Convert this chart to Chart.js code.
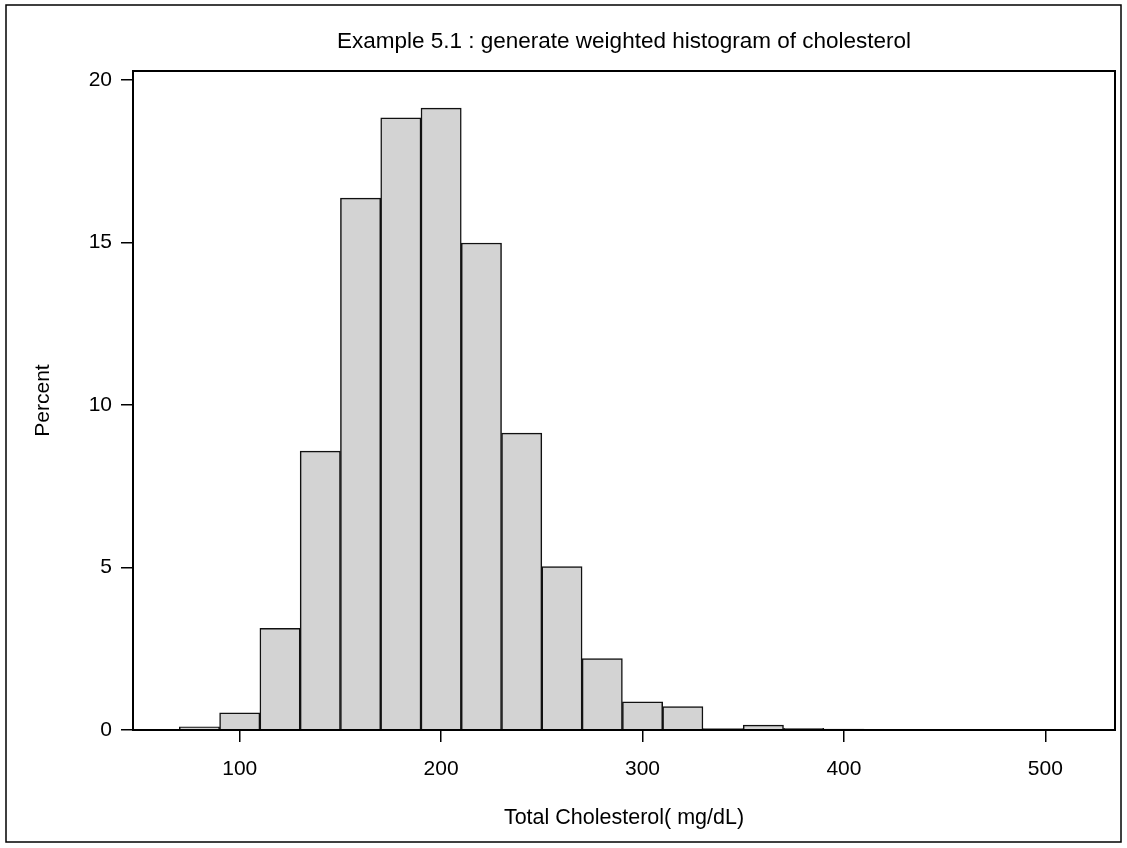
<!DOCTYPE html>
<html>
<head>
<meta charset="utf-8">
<script src="https://cdn.jsdelivr.net/npm/chart.js@4/dist/chart.umd.min.js"></script>
<style>
  html, body { margin: 0; padding: 0; background: #fff; }
  #wrap { position: relative; width: 1127px; height: 848px; }
</style>
</head>
<body>
<div id="wrap"><canvas id="histChart"></canvas></div>
<script>
// weighted histogram, 20 mg/dL bins (centre values)
const binCenters = [60, 80, 100, 120, 140, 160, 180, 200, 220, 240, 260, 280,
                    300, 320, 340, 360, 380, 400, 420, 440, 460, 480, 500, 520];
const percent    = [0.02, 0.10, 0.53, 3.13, 8.58, 16.36, 18.83, 19.13, 14.98, 9.13, 5.03, 2.20,
                    0.87, 0.72, 0.04, 0.15, 0.05, 0.03, 0.02, 0.01, 0.01, 0.01, 0.01, 0.02];
const xTicks = [100, 200, 300, 400, 500];
const yTicks = [0, 5, 10, 15, 20];

const FONT = "'Liberation Sans', Arial, sans-serif";
const X_MIN = 47, X_MAX = 534.6;

// outer border + plot frame
const frames = {
  id: 'frames',
  beforeDraw(chart) {
    const ctx = chart.ctx;
    ctx.save();
    ctx.fillStyle = '#fff';
    ctx.fillRect(0, 0, chart.width, chart.height);
    ctx.strokeStyle = '#000';
    ctx.lineWidth = 1.5;
    ctx.strokeRect(6, 5, 1115, 837);
    ctx.restore();
  },
  afterDatasetsDraw(chart) {
    const { ctx, chartArea: a } = chart;
    ctx.save();
    ctx.strokeStyle = '#000';
    ctx.lineWidth = 2;
    ctx.strokeRect(a.left, a.top, a.right - a.left, a.bottom - a.top);
    ctx.restore();
  }
};

new Chart(document.getElementById('histChart'), {
  type: 'bar',
  data: {
    datasets: [{
      data: binCenters.map((x, i) => ({ x, y: percent[i] })),
      backgroundColor: '#d3d3d3',
      borderColor: '#111',
      borderWidth: 1.5,
      barPercentage: 1,
      categoryPercentage: 1,
    }],
  },
  options: {
    responsive: true,
    maintainAspectRatio: false,
    animation: false,
    layout: { padding: { top: 0, right: 12, bottom: 0, left: 0 } },
    plugins: {
      legend: { display: false },
      tooltip: { enabled: false },
    },
    scales: {
      x: {
        type: 'linear',
        min: X_MIN,
        max: X_MAX,
        offset: false,
        afterBuildTicks: s => { s.ticks = xTicks.map(v => ({ value: v })); },
        afterFit: s => { s.height = 118; },
        grid: { offset: false, drawOnChartArea: false, drawTicks: true, tickLength: 12, color: '#000', lineWidth: 1.5 },
        border: { display: true, color: '#000', width: 2 },
        ticks: { color: '#000', padding: 15, maxRotation: 0, font: { family: FONT, size: 21 } },
        title: {
          display: true,
          text: 'Total Cholesterol( mg/dL)',
          color: '#000',
          font: { family: FONT, size: 21.5, lineHeight: 1.2 },
          padding: { top: 0, bottom: 17 },
        },
      },
      // top axis only carries the chart title, centred over the plot
      xTop: {
        type: 'linear',
        position: 'top',
        min: X_MIN,
        max: X_MAX,
        offset: false,
        afterFit: s => { s.height = 71; },
        grid: { display: false },
        border: { display: false },
        ticks: { display: false },
        title: {
          display: true,
          text: 'Example 5.1 : generate weighted histogram of cholesterol',
          color: '#000',
          font: { family: FONT, size: 22.5, lineHeight: 1.2 },
          padding: { top: 28, bottom: 0 },
        },
      },
      y: {
        min: 0,
        max: 20.27,
        afterBuildTicks: s => { s.ticks = yTicks.map(v => ({ value: v })); },
        afterFit: s => { s.width = 133; },
        grid: { drawOnChartArea: false, drawTicks: true, tickLength: 12, color: '#000', lineWidth: 1.5 },
        border: { display: true, color: '#000', width: 2 },
        ticks: { color: '#000', padding: 9, font: { family: FONT, size: 21 } },
        title: {
          display: true,
          text: 'Percent',
          color: '#000',
          font: { family: FONT, size: 21, lineHeight: 1.2 },
          padding: { top: 31, bottom: 0 },
        },
      },
    },
  },
  plugins: [frames],
});
</script>
</body>
</html>
